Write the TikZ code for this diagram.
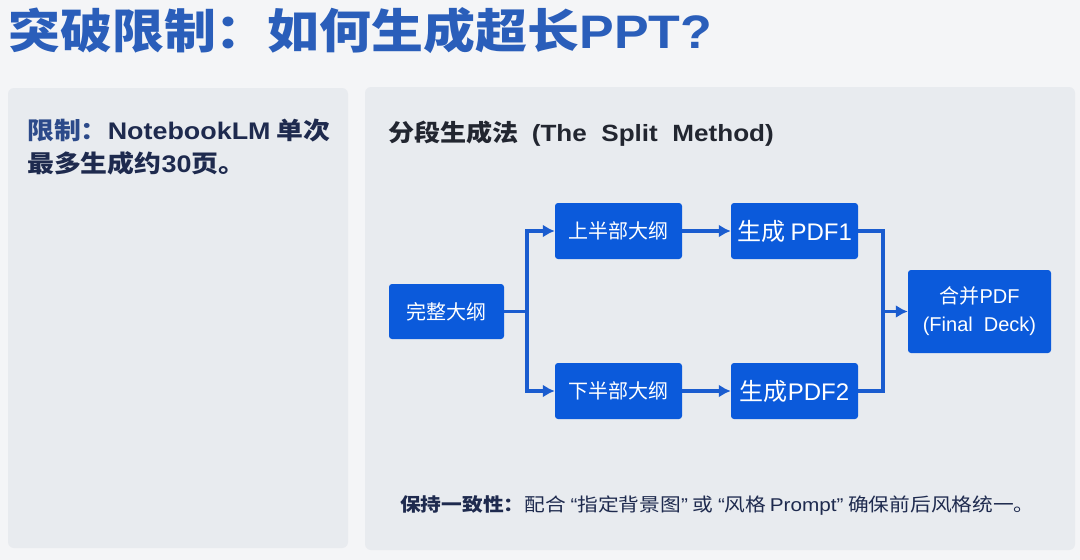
\documentclass[tikz,border=0pt]{standalone}
\usepackage{fontspec}
\setmainfont{Noto Sans CJK SC}
\newfontfamily\lat{Liberation Sans}
\usetikzlibrary{arrows.meta}
\definecolor{bgc}{HTML}{F4F5F7}
\definecolor{panelc}{HTML}{E8EBEF}
\definecolor{titlec}{HTML}{2A5EBA}
\definecolor{navyc}{HTML}{1E2A4E}
\definecolor{labc}{HTML}{2C4A8A}
\definecolor{boxc}{HTML}{0B5ADB}
\definecolor{linec}{HTML}{1A5CCF}
\definecolor{headc}{HTML}{222630}
\tikzset{
  panel/.style={fill=panelc, rounded corners=6pt, draw=none},
  flowbox/.style={fill=boxc, draw=none, rounded corners=3pt, text=white, align=center, inner sep=0pt},
  conn/.style={draw=linec, line width=3.5pt, -{Latex[length=12pt,width=13pt]}},
  plain/.style={draw=linec, line width=3.5pt}
}
\begin{document}
\begin{tikzpicture}[x=1pt,y=-1pt]
\useasboundingbox[fill=bgc] (0,0) rectangle (1080,560);
% panels
\fill[panel] (8,88) rectangle (348,548);
\fill[panel] (365,87) rectangle (1075,550);
% title
\node[anchor=base west, inner sep=0pt, text=titlec, font=\fontsize{47}{52}\selectfont\bfseries] (title) at (8,48) {\scalebox{1.105}[1]{突破限制：如何生成超长\lat PPT?}};
% left text
\node[anchor=base west, inner sep=0pt, font=\fontsize{24}{30}\selectfont\bfseries] (lim1) at (27,139) {\scalebox{1.12}[1]{\textcolor{labc}{限制：}\textcolor{navyc}{\lat NotebookLM} \textcolor{navyc}{单次}}};
\node[anchor=base west, inner sep=0pt, text=navyc, font=\fontsize{24}{30}\selectfont\bfseries] (lim2) at (27,172) {\scalebox{1.12}[1]{最多生成约{\lat 30}页。}};
% heading
\node[anchor=base west, inner sep=0pt, text=headc, font=\fontsize{23.5}{28}\selectfont\bfseries] (head) at (388,141) {\scalebox{1.11}[1]{分段生成法 {\lat\ (The\ \ Split\ \ Method)}}};
% boxes
\node[flowbox, minimum width=115pt, minimum height=55pt, font=\fontsize{20}{24}\selectfont] (full) at (446.5,311.5) {完整大纲};
\node[flowbox, minimum width=127pt, minimum height=56pt, font=\fontsize{20}{24}\selectfont] (up) at (618.5,231) {上半部大纲};
\node[flowbox, minimum width=127pt, minimum height=56pt, font=\fontsize{20}{24}\selectfont] (down) at (618.5,391) {下半部大纲};
\node[flowbox, minimum width=127pt, minimum height=56pt, font=\fontsize{24}{28}\selectfont] (pdf1) at (794.5,231) {生成 {\lat PDF1}};
\node[flowbox, minimum width=127pt, minimum height=56pt, font=\fontsize{24}{28}\selectfont] (pdf2) at (794.5,391) {生成{\lat PDF2}};
\node[flowbox, minimum width=143pt, minimum height=83pt, font=\fontsize{20}{28}\selectfont] (merge) at (979.5,311.5) {合并{\lat PDF}\\{\lat (Final\ \ Deck)}};
% connectors
\coordinate (split) at (527,311.5);
\coordinate (join) at (883,311.5);
\draw[plain] (full.east) -- (split);
\draw[conn] (split) |- (up.west);
\draw[conn] (split) |- (down.west);
\draw[conn] (up.east) -- (pdf1.west);
\draw[conn] (down.east) -- (pdf2.west);
\draw[plain] (pdf1.east) -| (join);
\draw[plain] (pdf2.east) -| (join);
\draw[conn] (join) -- (merge.west);
% bottom note
\node[anchor=base west, inner sep=0pt, text=navyc, font=\fontsize{18.5}{22}\selectfont] (note) at (400,511) {\scalebox{1.12}[1]{\textbf{保持一致性：}配合\ {\lat “}指定背景图{\lat ”}\ 或\ {\lat “}风格\,{\lat Prompt”}\ 确保前后风格统一。}};
\end{tikzpicture}
\end{document}
